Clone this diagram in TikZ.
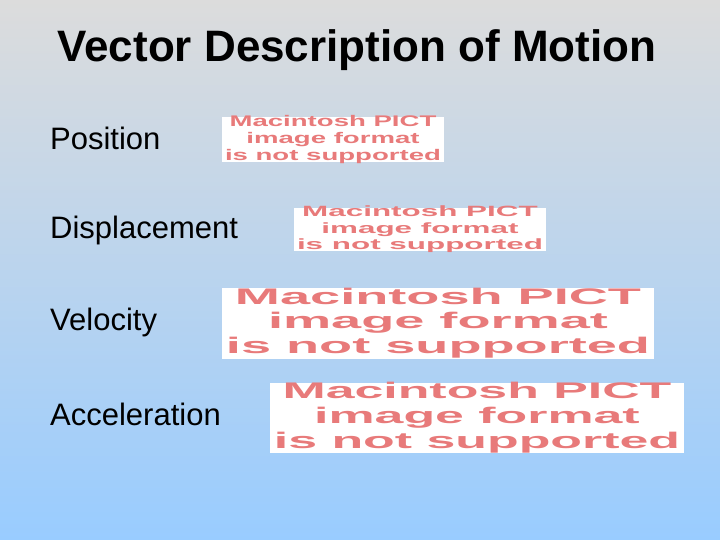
\documentclass[tikz,border=0pt]{standalone}
\usepackage{fontspec}
\setmainfont{Liberation Sans}
\usepackage{graphicx}
\definecolor{topc}{HTML}{DCDCDC}
\definecolor{botc}{HTML}{99CCFF}
\definecolor{pict}{HTML}{E87A7A}
\tikzset{
  lab/.style={anchor=west,inner sep=0pt,font=\fontsize{31pt}{36pt}\selectfont},
  pictbox/.style={fill=white,draw=none,inner sep=0pt,anchor=north west}
}
\newcommand{\pictxt}[2]{\resizebox{#1}{#2}{\color{pict}\bfseries\begin{tabular}{@{}c@{}}Macintosh PICT\\[-1pt] image format\\[-1pt] is not supported\end{tabular}}}
\begin{document}
\begin{tikzpicture}[x=1pt,y=-1pt]
\useasboundingbox (0,0) rectangle (720,540);
\shade[top color=topc,bottom color=botc] (0,0) rectangle (720,540);
\node[font=\bfseries\fontsize{44pt}{50pt}\selectfont] (title) at (357,50) {Vector Description of Motion};
\node[lab] (l1) at (50,138) {Position};
\node[lab] (l2) at (50,230) {Displacement};
\node[lab] (l3) at (50,322) {Velocity};
\node[lab] (l4) at (50,414) {Acceleration};
\fill[white] (222,117) rectangle (444,162);
\node (p1) at (333,139.5) {\pictxt{216pt}{30pt}};
\fill[white] (294,208) rectangle (546,251);
\node (p2) at (420,229.5) {\pictxt{246pt}{29pt}};
\fill[white] (222,288) rectangle (654,359);
\node (p3) at (438,323.5) {\pictxt{424pt}{44pt}};
\fill[white] (270,383) rectangle (684,453);
\node (p4) at (477,418) {\pictxt{406pt}{44pt}};
\end{tikzpicture}
\end{document}
